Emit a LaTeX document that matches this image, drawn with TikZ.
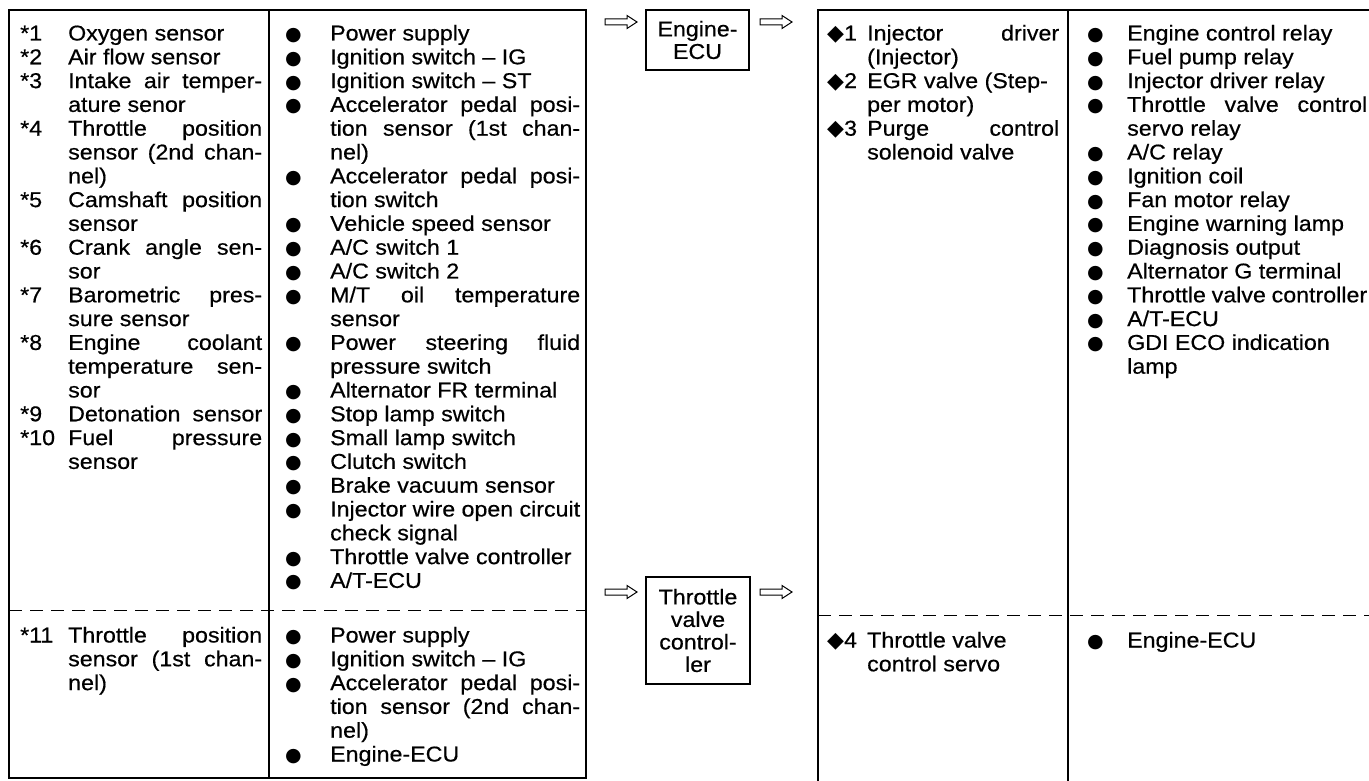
\documentclass[tikz,border=0pt]{standalone}
\usepackage{fontspec}
\setmainfont{Liberation Sans}[FakeStretch=1.08,FakeBold=0.5]
\newfontfamily\symf{DejaVu Sans}
\newcommand\bul{{\symf\fontsize{19}{19}\selectfont ●}}
\newcommand\dia[1]{{\symf\fontsize{22}{22}\selectfont ◆}#1}
\newcommand\xLn[3]{\makebox[#1][l]{#2}#3\par}
\newcommand\xJn[4]{\makebox[#1][l]{#2}\makebox[#3][s]{#4}\par}
\newcommand\xAL[2]{\xLn{48pt}{#1}{#2}}
\newcommand\xAJ[2]{\xJn{48pt}{#1}{194pt}{#2}}
\newcommand\xBL[2]{\xLn{45pt}{#1}{#2}}
\newcommand\xBJ[2]{\xJn{45pt}{#1}{250pt}{#2}}
\newcommand\xCL[2]{\xLn{40pt}{#1}{#2}}
\newcommand\xCJ[2]{\xJn{40pt}{#1}{192pt}{#2}}
\newcommand\xDL[2]{\xLn{40pt}{#1}{#2}}
\newcommand\xDJ[2]{\xJn{40pt}{#1}{240pt}{#2}}
\newcommand\xblk[2]{\parbox[t]{#1}{\setlength{\lineskiplimit}{-50pt}\fontsize{21.5}{23.8}\selectfont #2}}
\newcommand\harrowpath[1]{\draw[harrow] (#1) ++(0,-3) -- ++(22,0) -- ++(0,-3.5) -- ++(10,6.5) -- ++(-10,6.5) -- ++(0,-3.5) -- ++(-22,0) -- cycle;}
\tikzset{
  tbl/.style={line width=1.3pt},
  dsh/.style={line width=1pt, dash pattern=on 13pt off 8pt},
  boxn/.style={draw, line width=1.2pt, align=center, inner sep=0pt, font=\fontsize{21.5}{22.5}\selectfont},
  harrow/.style={line width=1pt, line join=miter},
  txt/.style={anchor=base west, inner sep=0pt}
}
\begin{document}
\begin{tikzpicture}[x=1pt,y=-1pt]
\path[use as bounding box, clip] (0,0) rectangle (1369,781);
\fill[white] (0,0) rectangle (1369,781);
% left table
\draw[tbl] (9,10) rectangle (586,778);
\draw[tbl] (269,10) -- (269,778);
\draw[dsh] (9,610) -- (586,610);
% right table
\draw[tbl] (1380,10) -- (818,10) -- (818,790);
\draw[tbl] (1068,10) -- (1068,790);
\draw[dsh] (818,615) -- (1369,615);
% boxes
\node[boxn, minimum width=103pt, minimum height=60pt] (ecu) at (697.5,40) {Engine-\\ECU};
\node[boxn, minimum width=104pt, minimum height=107pt] (tvc) at (698,630.5) {Throttle\\valve\\control-\\ler};
% arrows
\coordinate (a1) at (605,22);
\coordinate (a2) at (760,22);
\coordinate (a3) at (605,592);
\coordinate (a4) at (760,592);
\harrowpath{a1}
\harrowpath{a2}
\harrowpath{a3}
\harrowpath{a4}
% left column
\node[txt] (colL) at (20,40.5) {\xblk{242pt}{%
\xAL{*1}{Oxygen sensor}
\xAL{*2}{Air flow sensor}
\xAJ{*3}{Intake air temper-}
\xAL{}{ature senor}
\xAJ{*4}{Throttle position}
\xAJ{}{sensor (2nd chan-}
\xAL{}{nel)}
\xAJ{*5}{Camshaft position}
\xAL{}{sensor}
\xAJ{*6}{Crank angle sen-}
\xAL{}{sor}
\xAJ{*7}{Barometric pres-}
\xAL{}{sure sensor}
\xAJ{*8}{Engine coolant}
\xAJ{}{temperature sen-}
\xAL{}{sor}
\xAJ{*9}{Detonation sensor}
\xAJ{*10}{Fuel pressure}
\xAL{}{sensor}}};
\node[txt] (colLb) at (20,642.5) {\xblk{242pt}{%
\xAJ{*11}{Throttle position}
\xAJ{}{sensor (1st chan-}
\xAL{}{nel)}}};
% middle column
\node[txt] (colM) at (285,40.5) {\xblk{295pt}{%
\xBL{\bul}{Power supply}
\xBL{\bul}{Ignition switch – IG}
\xBL{\bul}{Ignition switch – ST}
\xBJ{\bul}{Accelerator pedal posi-}
\xBJ{}{tion sensor (1st chan-}
\xBL{}{nel)}
\xBJ{\bul}{Accelerator pedal posi-}
\xBL{}{tion switch}
\xBL{\bul}{Vehicle speed sensor}
\xBL{\bul}{A/C switch 1}
\xBL{\bul}{A/C switch 2}
\xBJ{\bul}{M/T oil temperature}
\xBL{}{sensor}
\xBJ{\bul}{Power steering fluid}
\xBL{}{pressure switch}
\xBL{\bul}{Alternator FR terminal}
\xBL{\bul}{Stop lamp switch}
\xBL{\bul}{Small lamp switch}
\xBL{\bul}{Clutch switch}
\xBL{\bul}{Brake vacuum sensor}
\xBJ{\bul}{Injector wire open circuit}
\xBL{}{check signal}
\xBL{\bul}{Throttle valve controller}
\xBL{\bul}{A/T-ECU}}};
\node[txt] (colMb) at (285,642.5) {\xblk{295pt}{%
\xBL{\bul}{Power supply}
\xBL{\bul}{Ignition switch – IG}
\xBJ{\bul}{Accelerator pedal posi-}
\xBJ{}{tion sensor (2nd chan-}
\xBL{}{nel)}
\xBL{\bul}{Engine-ECU}}};
% right table, left column
\node[txt] (colR) at (827,40.5) {\xblk{232pt}{%
\xCJ{\dia1}{Injector driver}
\xCL{}{(Injector)}
\xCL{\dia2}{EGR valve (Step-}
\xCL{}{per motor)}
\xCJ{\dia3}{Purge control}
\xCL{}{solenoid valve}}};
\node[txt] (colRb) at (827,647.5) {\xblk{232pt}{%
\xCL{\dia4}{Throttle valve}
\xCL{}{control servo}}};
% right table, right column
\node[txt] (colS) at (1087,40.5) {\xblk{280pt}{%
\xDL{\bul}{Engine control relay}
\xDL{\bul}{Fuel pump relay}
\xDL{\bul}{Injector driver relay}
\xDJ{\bul}{Throttle valve control}
\xDL{}{servo relay}
\xDL{\bul}{A/C relay}
\xDL{\bul}{Ignition coil}
\xDL{\bul}{Fan motor relay}
\xDL{\bul}{Engine warning lamp}
\xDL{\bul}{Diagnosis output}
\xDL{\bul}{Alternator G terminal}
\xDL{\bul}{Throttle valve controller}
\xDL{\bul}{A/T-ECU}
\xDL{\bul}{GDI ECO indication}
\xDL{}{lamp}}};
\node[txt] (colSb) at (1087,647.5) {\xblk{280pt}{%
\xDL{\bul}{Engine-ECU}}};
\end{tikzpicture}
\end{document}
